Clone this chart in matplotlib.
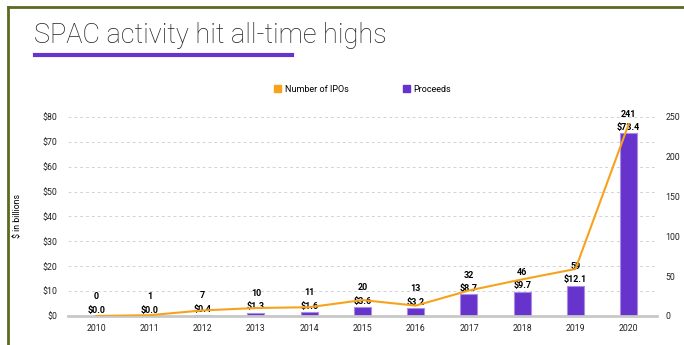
import matplotlib.pyplot as plt
from matplotlib.patches import Patch
from matplotlib.lines import Line2D

years = ['2010', '2011', '2012', '2013', '2014', '2015', '2016', '2017', '2018', '2019', '2020']
proceeds = [0.0, 0.0, 0.4, 1.3, 1.6, 3.6, 3.2, 8.7, 9.7, 12.1, 73.4]
ipos = [0, 1, 7, 10, 11, 20, 13, 32, 46, 59, 241]
left_ticks = [0, 10, 20, 30, 40, 50, 60, 70, 80]
right_ticks = [0, 50, 100, 150, 200, 250]

purple = '#6633CC'
orange = '#F7A21B'
olive = '#5B6B25'

plt.rcParams['font.family'] = ['Roboto', 'DejaVu Sans']

fig = plt.figure(figsize=(6.84, 3.45), dpi=100)
ax = fig.add_axes([0.0994, 0.0841, 0.861, 0.577])
ax2 = ax.twinx()

x = list(range(len(years)))
ax.bar(x, proceeds, width=0.32, color=purple, edgecolor='#A98CE6', linewidth=0.8, zorder=2)
ax.set_xlim(-0.53, 10.53)
ax.set_ylim(0, 80)
ax.set_yticks(left_ticks)
ax.set_yticklabels([f'${t}' for t in left_ticks])
ax.set_xticks(x)
ax.set_xticklabels(years)
ax.grid(axis='y', linestyle=(0, (3, 3)), color='#D3D3D3', linewidth=0.7, zorder=0)
ax.set_axisbelow(True)
for s in ['top', 'right', 'left']:
    ax.spines[s].set_visible(False)
ax.spines['bottom'].set_color('#C8C8C8')
ax.spines['bottom'].set_linewidth(2)
ax.tick_params(axis='both', length=0, labelsize=6.3, colors='#222222')
ax.tick_params(axis='x', pad=6)
ax.tick_params(axis='y', pad=8)
ax.set_ylabel('$ in billions', fontsize=6.3, labelpad=14)

ax2.plot(x, ipos, color=orange, linewidth=1.5, zorder=3)
ax2.set_ylim(0, 250)
ax2.set_yticks(right_ticks)
for s in ['top', 'right', 'left', 'bottom']:
    ax2.spines[s].set_visible(False)
ax2.tick_params(axis='y', length=0, labelsize=6.3, colors='#222222', pad=6)

for i in x:
    ax.annotate(f'${proceeds[i]:.1f}', (i, proceeds[i]), xytext=(0, 1), textcoords='offset points',
                ha='center', va='bottom', fontsize=6.5, fontweight='bold', zorder=5)
    ax.annotate(f'{ipos[i]}', (i, proceeds[i]), xytext=(0, 10.5), textcoords='offset points',
                ha='center', va='bottom', fontsize=6.5, fontweight='bold', zorder=5)

handles = [Patch(color=orange, label='Number of IPOs'), Patch(color=purple, label='Proceeds')]
fig.legend(handles=handles, loc='center', bbox_to_anchor=(0.53, 0.742), ncol=2, frameon=False,
           fontsize=6.5, handlelength=0.8, handleheight=0.8, columnspacing=6, handletextpad=0.4)

fig.text(0.049, 0.898, 'SPAC activity hit all-time highs', fontsize=19.5, fontweight='light',
         color='#222222', va='center', ha='left')
fig.add_artist(Line2D([0.051, 0.427], [0.84, 0.84], color=purple, linewidth=3))

# olive frame on top and left
fig.add_artist(Line2D([0.012, 1.0], [0.98, 0.98], color=olive, linewidth=2))
fig.add_artist(Line2D([0.012, 0.012], [0.0, 0.98], color=olive, linewidth=2))

fig.savefig('out.png', dpi=100)
